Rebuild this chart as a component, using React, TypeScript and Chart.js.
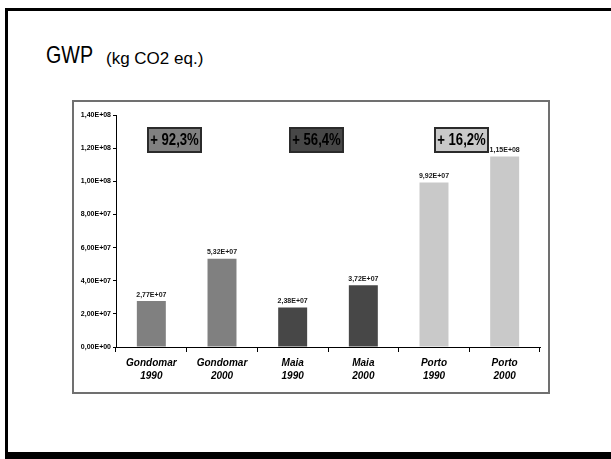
import React, { useEffect, useRef } from 'react';
import { Chart, registerables } from 'chart.js';

Chart.register(...registerables);

// Categories (municipality / year), drawn as two-line axis labels
const categories: string[][] = [
  ['Gondomar', '1990'],
  ['Gondomar', '2000'],
  ['Maia', '1990'],
  ['Maia', '2000'],
  ['Porto', '1990'],
  ['Porto', '2000'],
];

// Global warming potential, kg CO2 eq.
const gwpValues: number[] = [2.77e7, 5.32e7, 2.38e7, 3.72e7, 9.92e7, 1.15e8];

const barColors: string[] = ['#808080', '#808080', '#474747', '#474747', '#c9c9c9', '#c9c9c9'];

// Growth 1990 -> 2000 per municipality
const changeLabels: string[] = ['+ 92,3%', '+ 56,4%', '+ 16,2%'];
const changeColors: string[] = ['#808080', '#474747', '#c9c9c9'];
const changeIndexPos: number[] = [0.33, 2.34, 4.39];
const changeLevel = 1.25e8;

const yMin = 0;
const yMax = 1.4e8;
const yStep = 2e7;

// Excel-like scientific format: 1,40E+08
function formatSci(v: number): string {
  if (v === 0) return '0,00E+00';
  let exp = Math.floor(Math.log10(Math.abs(v)));
  let m = (v / Math.pow(10, exp)).toFixed(2);
  if (m === '10.00') {
    exp += 1;
    m = (v / Math.pow(10, exp)).toFixed(2);
  }
  const sign = exp < 0 ? '-' : '+';
  const e = String(Math.abs(exp)).padStart(2, '0');
  return m.replace('.', ',') + 'E' + sign + e;
}

// condensed look for the box captions
const NARROW = 0.82;

const annotationPlugin = {
  id: 'gwpAnnotations',
  afterDatasetsDraw(chart: any) {
    const ctx = chart.ctx as CanvasRenderingContext2D;
    const meta = chart.getDatasetMeta(0);
    ctx.save();
    // value labels above bars
    ctx.font = 'bold 7px "Liberation Sans", Arial, sans-serif';
    ctx.fillStyle = '#1a1a1a';
    ctx.textAlign = 'center';
    ctx.textBaseline = 'bottom';
    meta.data.forEach((bar: any, i: number) => {
      ctx.fillText(formatSci(gwpValues[i]), bar.x, bar.y - 3);
    });
    // growth boxes
    const xs = chart.scales.x;
    const ys = chart.scales.y;
    const bw = 55;
    const bh = 26;
    changeLabels.forEach((lbl, i) => {
      const cx = xs.getPixelForValue(changeIndexPos[i]);
      const cy = ys.getPixelForValue(changeLevel);
      const x0 = Math.round(cx - bw / 2);
      const y0 = Math.round(cy - bh / 2);
      ctx.fillStyle = changeColors[i];
      ctx.fillRect(x0, y0, bw, bh);
      ctx.strokeStyle = '#2b2b2b';
      ctx.lineWidth = 2;
      ctx.strokeRect(x0 + 1, y0 + 1, bw - 2, bh - 2);
      ctx.save();
      ctx.translate(x0 + bw / 2, y0 + bh / 2 + 1);
      ctx.scale(NARROW, 1);
      ctx.fillStyle = '#000000';
      ctx.font = 'bold 16px "Liberation Sans", Arial, sans-serif';
      ctx.textAlign = 'center';
      ctx.textBaseline = 'middle';
      ctx.fillText(lbl, 0, 0);
      ctx.restore();
    });
    ctx.restore();
  },
};

function GwpChart() {
  const canvasRef = useRef<HTMLCanvasElement | null>(null);

  useEffect(() => {
    if (!canvasRef.current) return;
    const chart = new Chart(canvasRef.current, {
      type: 'bar',
      data: {
        labels: categories,
        datasets: [
          {
            data: gwpValues,
            backgroundColor: barColors,
            borderWidth: 0,
            categoryPercentage: 1,
            barPercentage: 0.41,
          },
        ],
      },
      options: {
        animation: false,
        responsive: false,
        maintainAspectRatio: false,
        devicePixelRatio: 1,
        layout: { padding: { top: 13, right: 8, bottom: 0, left: 0 } },
        plugins: {
          legend: { display: false },
          tooltip: { enabled: false },
          title: { display: false },
        },
        scales: {
          x: {
            type: 'category',
            offset: true,
            grid: {
              display: true,
              offset: true,
              drawOnChartArea: false,
              drawTicks: true,
              tickLength: 5,
              color: '#000000',
              lineWidth: 1,
            },
            border: { display: true, color: '#000000', width: 1 },
            ticks: {
              color: '#000000',
              padding: 4,
              maxRotation: 0,
              autoSkip: false,
              font: {
                family: '"Liberation Sans", Arial, sans-serif',
                size: 10,
                weight: 'bold',
                style: 'italic',
                lineHeight: 1.35,
              },
            },
            afterFit: (scale: any) => {
              scale.height = 45;
            },
          },
          y: {
            min: yMin,
            max: yMax,
            grid: {
              display: true,
              drawOnChartArea: false,
              drawTicks: true,
              tickLength: 3,
              color: '#000000',
              lineWidth: 1,
            },
            border: { display: true, color: '#000000', width: 1 },
            ticks: {
              stepSize: yStep,
              color: '#000000',
              padding: 2,
              font: { family: '"Liberation Sans", Arial, sans-serif', size: 7, weight: 'bold' },
              callback: (v: any) => formatSci(Number(v)),
            },
            afterFit: (scale: any) => {
              scale.width = 42;
            },
          },
        },
      },
      plugins: [annotationPlugin],
    });
    return () => chart.destroy();
  }, []);

  return <canvas ref={canvasRef} width={474} height={290} style={{ display: 'block', width: 474, height: 290 }} />;
}

export default function App() {
  return (
    <div
      style={{
        position: 'absolute',
        left: 0,
        top: 0,
        width: 611,
        height: 459,
        background: '#ffffff',
        overflow: 'hidden',
        fontFamily: '"Liberation Sans", Arial, sans-serif',
      }}
    >
      {/* slide frame */}
      <div style={{ position: 'absolute', left: 5, top: 8, width: 3, height: 451, background: '#000' }} />
      <div style={{ position: 'absolute', left: 5, top: 8, width: 606, height: 3, background: '#000' }} />
      <div style={{ position: 'absolute', left: 5, top: 452, width: 606, height: 7, background: '#000' }} />

      {/* heading */}
      <div
        style={{
          position: 'absolute',
          left: 46,
          top: 43,
          whiteSpace: 'nowrap',
          color: '#000',
          lineHeight: '24px',
          fontSize: 24,
          transform: 'scaleX(0.82)',
          transformOrigin: 'left top',
        }}
      >
        GWP
      </div>
      <div
        style={{
          position: 'absolute',
          left: 106,
          top: 47,
          whiteSpace: 'nowrap',
          color: '#000',
          lineHeight: '24px',
          fontSize: 17,
        }}
      >
        (kg CO2 eq.)
      </div>

      {/* chart box */}
      <div
        style={{
          position: 'absolute',
          left: 72,
          top: 100,
          width: 478,
          height: 294,
          border: '2px solid #707070',
          boxSizing: 'border-box',
          background: '#fff',
        }}
      >
        <GwpChart />
      </div>
    </div>
  );
}
